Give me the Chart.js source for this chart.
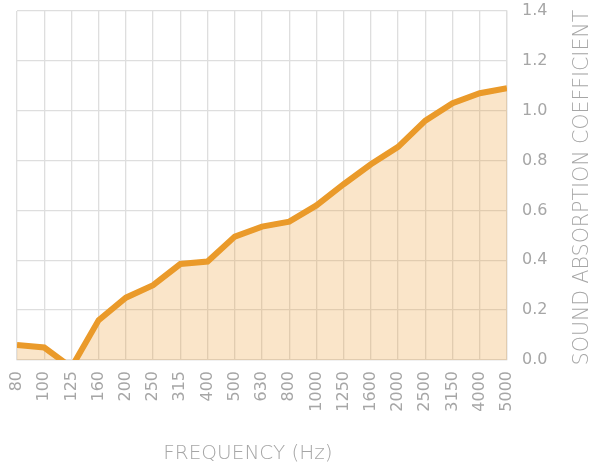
<!DOCTYPE html>
<html>
<head>
<meta charset="utf-8">
<script src="https://cdn.jsdelivr.net/npm/chart.js@4/dist/chart.umd.min.js"></script>
<style>
  html, body { margin: 0; padding: 0; background: #fff; }
  #wrap { width: 597px; height: 465px; position: relative; }
</style>
</head>
<body>
<div id="wrap"><canvas id="chart"></canvas></div>
<script>
// Frequency bands (Hz) and absorption coefficient
const frequencies = ["80", "100", "125", "160", "200", "250", "315", "400", "500", "630",
                     "800", "1000", "1250", "1600", "2000", "2500", "3150", "4000", "5000"];
const absorption = [0.06, 0.05, -0.03, 0.16, 0.25, 0.30, 0.385, 0.395, 0.495, 0.535,
                    0.555, 0.62, 0.705, 0.785, 0.855, 0.96, 1.03, 1.07, 1.09];
const yTicks = [0.0, 0.2, 0.4, 0.6, 0.8, 1.0, 1.2, 1.4];

const xTitle = "FREQUENCY (Hz)";
const yTitle = "SOUND ABSORPTION COEFFICIENT";

const fontFamily = "'DejaVu Sans', sans-serif";
const textGrey = "#a6a6a6";
const gridGrey = "#dedede";

// draws both axis titles (the right one reads bottom-to-top)
const axisTitles = {
    id: "axisTitles",
    afterDraw(chart) {
        const ctx = chart.ctx;
        const area = chart.chartArea;
        ctx.save();
        ctx.fillStyle = textGrey;
        ctx.font = "200 20px " + fontFamily;
        ctx.textAlign = "center";
        ctx.textBaseline = "middle";
        ctx.fillText(xTitle, (area.left + area.right) / 2 - 14, 454);

        ctx.font = "200 20.5px " + fontFamily;
        ctx.translate(583, (area.top + area.bottom) / 2 + 2);
        ctx.rotate(-Math.PI / 2);
        ctx.fillText(yTitle, 0, 0);
        ctx.restore();
    }
};

new Chart(document.getElementById("chart"), {
    type: "line",
    data: {
        labels: frequencies,
        datasets: [{
            data: absorption,
            borderColor: "#EA9A2A",
            borderWidth: 6,
            backgroundColor: "rgba(234, 150, 40, 0.25)",
            fill: "origin",
            pointRadius: 0,
            tension: 0,
            clip: 0
        }]
    },
    options: {
        responsive: true,
        maintainAspectRatio: false,
        animation: false,
        layout: { padding: { top: 11, left: 17, right: 0, bottom: 0 } },
        plugins: {
            legend: { display: false },
            tooltip: { enabled: false }
        },
        scales: {
            x: {
                grid: { color: gridGrey, lineWidth: 1.3, drawTicks: false },
                border: { color: gridGrey, width: 1.3 },
                ticks: {
                    color: textGrey,
                    font: { family: fontFamily, size: 16, weight: 400 },
                    minRotation: 90,
                    maxRotation: 90,
                    autoSkip: false,
                    padding: 11
                },
                afterFit(scale) {
                    scale.height = 105;
                    scale.paddingLeft = 0;
                    scale.paddingRight = 0;
                }
            },
            y: {
                position: "right",
                min: yTicks[0],
                max: yTicks[yTicks.length - 1],
                afterBuildTicks(scale) {
                    scale.ticks = yTicks.map(v => ({ value: v }));
                },
                grid: { color: gridGrey, lineWidth: 1.3, drawTicks: false },
                border: { color: gridGrey, width: 1.3 },
                ticks: {
                    color: textGrey,
                    font: { family: fontFamily, size: 16, weight: 400 },
                    padding: 15,
                    callback: v => Number(v).toFixed(1)
                },
                afterFit(scale) {
                    scale.width = 90;
                    scale.paddingTop = 0;
                    scale.paddingBottom = 0;
                }
            }
        }
    },
    plugins: [axisTitles]
});
</script>
</body>
</html>
